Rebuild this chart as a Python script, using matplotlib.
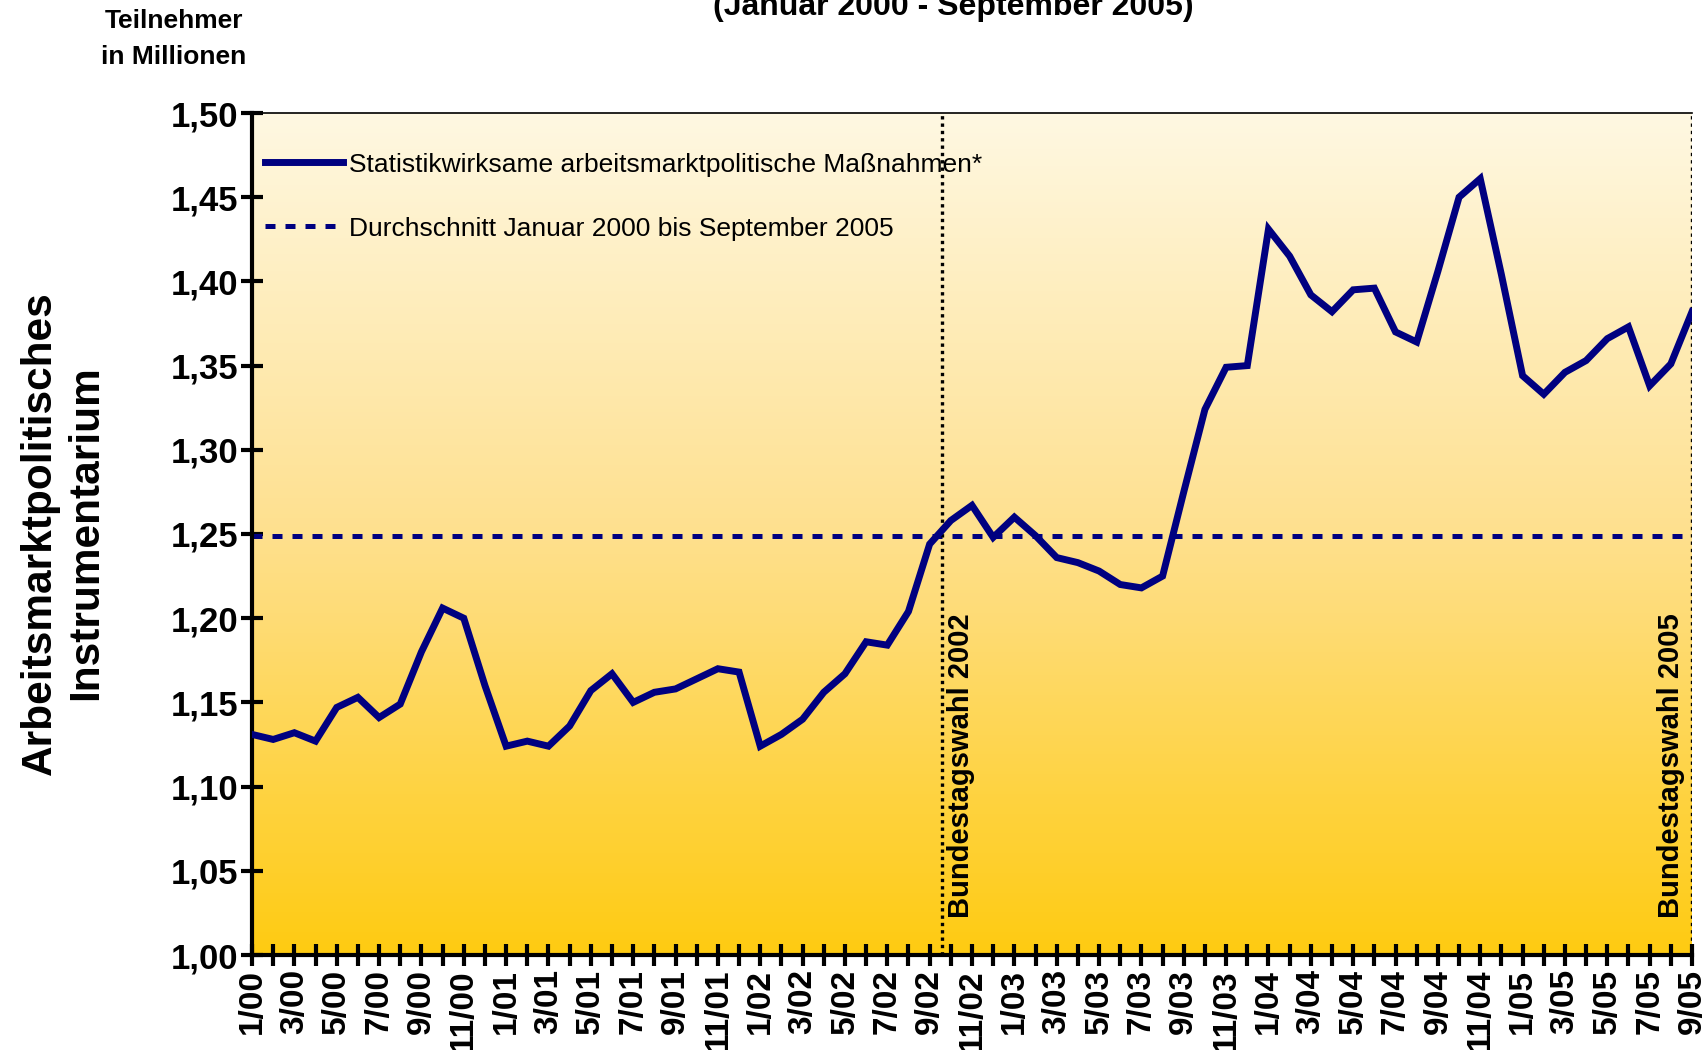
import matplotlib
matplotlib.use("Agg")
import matplotlib.pyplot as plt
import numpy as np
from matplotlib.colors import LinearSegmentedColormap

plt.rcParams['font.family'] = ['Liberation Sans', 'DejaVu Sans']

# ---- data ----
months = [f"{m}/{y:02d}" for y in range(0, 6) for m in range(1, 13)][:69]
teilnehmer = [
    1.131, 1.128, 1.132, 1.127, 1.147, 1.153, 1.141, 1.149, 1.180, 1.206, 1.200, 1.160,
    1.124, 1.127, 1.124, 1.136, 1.157, 1.167, 1.150, 1.156, 1.158, 1.164, 1.170, 1.168,
    1.124, 1.131, 1.140, 1.156, 1.167, 1.186, 1.184, 1.204, 1.244, 1.258, 1.267, 1.248,
    1.260, 1.249, 1.236, 1.233, 1.228, 1.220, 1.218, 1.225, 1.275, 1.324, 1.349, 1.350,
    1.431, 1.415, 1.392, 1.382, 1.395, 1.396, 1.370, 1.364, 1.406, 1.450, 1.461, 1.404,
    1.344, 1.333, 1.346, 1.353, 1.366, 1.373, 1.338, 1.351, 1.382,
]
durchschnitt = 1.249
wahl_pos = [32.6, 68.0]
wahl_labels = ["Bundestagswahl 2002", "Bundestagswahl 2005"]
yticks = [1.00, 1.05, 1.10, 1.15, 1.20, 1.25, 1.30, 1.35, 1.40, 1.45, 1.50]
ytick_labels = [f"{v:.2f}".replace(".", ",") for v in yticks]

navy = "#000080"

fig = plt.figure(figsize=(17.06, 10.5), dpi=100)
ax = fig.add_axes([252/1706, 1-955/1050, (1692-252)/1706, (955-113)/1050])

x = np.arange(len(teilnehmer))
ax.set_xlim(0, len(teilnehmer)-1)
ax.set_ylim(1.0, 1.5)

# gradient background
cmap = LinearSegmentedColormap.from_list("bg", ["#FFCB12", "#FEE08E", "#FFF8E2"])
grad = np.linspace(0, 1, 256).reshape(-1, 1)
ax.imshow(grad, extent=[0, len(teilnehmer)-1, 1.0, 1.5], origin="lower",
          aspect="auto", cmap=cmap, zorder=0)

ax.plot(x, teilnehmer, color=navy, lw=5, solid_joinstyle="miter", zorder=3,
        label="Statistikwirksame arbeitsmarktpolitische Maßnahmen*")
ax.axhline(durchschnitt, color=navy, lw=3.6, ls=(0, (2, 2)), zorder=2,
           label="Durchschnitt Januar 2000 bis September 2005")

for xp in wahl_pos:
    ax.axvline(xp, color="black", lw=2.4, ls=(0, (1, 1.2)), zorder=2)
ax.text(wahl_pos[0] + 0.9, 1.022, wahl_labels[0], rotation=90, ha="center", va="bottom",
        fontsize=21, fontweight="bold", zorder=4)
ax.text(wahl_pos[1] - 1.0, 1.022, wahl_labels[1], rotation=90, ha="center", va="bottom",
        fontsize=21, fontweight="bold", zorder=4)

# spines
ax.spines["right"].set_visible(False)
ax.spines["top"].set_linewidth(1.2)
ax.spines["left"].set_linewidth(3)
ax.spines["bottom"].set_linewidth(3)

ax.set_yticks(yticks)
ax.set_yticklabels(ytick_labels, fontsize=25, fontweight="bold")
ax.set_xticks(x)
ax.set_xticklabels([m if i % 2 == 0 else "" for i, m in enumerate(months)],
                   rotation=90, fontsize=24, fontweight="bold")
ax.tick_params(axis="both", direction="inout", length=16, width=3, pad=2)

leg = ax.legend(loc="upper left", frameon=False, fontsize=19, handlelength=2.95,
                handletextpad=0.25, labelspacing=1.52, borderaxespad=0.3,
                bbox_to_anchor=(-0.004, 0.975))

fig.text(63/1706, 1-533/1050, "Arbeitsmarktpolitisches\nInstrumentarium", rotation=90,
         ha="center", va="center", multialignment="center", fontsize=30.5,
         fontweight="bold", linespacing=1.17)
fig.text(174/1706, 1-39/1050, "Teilnehmer\nin Millionen", ha="center", va="center",
         multialignment="center", fontsize=19, fontweight="bold", linespacing=1.62)
fig.text(953/1706, 1-15/1050, "(Januar 2000 - September 2005)", ha="center",
         va="baseline", fontsize=23, fontweight="bold")

fig.savefig("out.png", dpi=100)
